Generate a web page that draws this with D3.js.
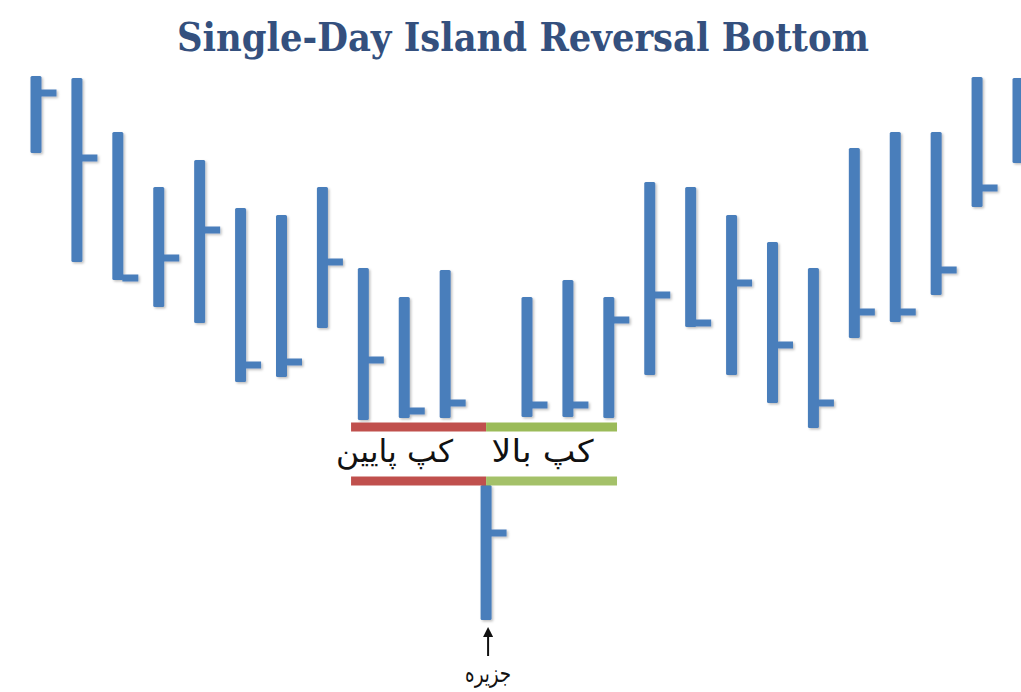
<!DOCTYPE html>
<html>
<head>
<meta charset="utf-8">
<script src="https://cdn.jsdelivr.net/npm/d3@7"></script>
<style>
  body { margin: 0; background: #fff; }
  svg { display: block; }
</style>
</head>
<body>
<svg id="chart"></svg>
<script>
// bar index 11 is the island day
const days  = d3.range(25);
const highs = [120.8, 120.4, 109.6, 98.6, 104, 94.4, 93, 98.6, 82.4, 76.6, 82, 39, 76.6, 80, 76.6, 99.6, 98.6, 93, 87.6, 82.4, 106.4, 109.6, 109.6, 120.6, 120.4];
const lows  = [105.4, 83.6, 80, 74.6, 71.4, 59.6, 60.6, 70.4, 52, 52.4, 52.4, 12, 52.6, 52.6, 52.4, 61, 70.6, 61, 55.4, 50.4, 68.4, 71.6, 77, 94.6, 103.4];
const closes = [117.4, 104.4, 80.4, 84.4, 90, 63, 63.6, 83.6, 64, 53.8, 55.4, 29.4, 55, 55, 72, 77, 71.4, 79.4, 67, 55.4, 73.6, 73.6, 82, 98.4, 95];

// gap markers: [level, from index, to index]
const gapLevels = [50.6, 39.8];
const downGap = [7.7, 11];
const upGap   = [11, 14.2];

const titleText = "Single-Day Island Reversal Bottom";
const downLabel = "کپ پایین";
const upLabel   = "کپ بالا";
const islandLabel = "جزیره";

const width = 1021, height = 692;
const blue = "#4a7ebb", red = "#c0504d", green = "#9bbb59";

const svg = d3.select("#chart").attr("width", width).attr("height", height);

const x = d3.scaleLinear().domain([0, 24]).range([36, 1018]);
const y = d3.scaleLinear().domain([0, 130]).range([680, 30]);

const defs = svg.append("defs");
const shadow = defs.append("filter").attr("id", "shadow")
    .attr("x", "-50%").attr("y", "-10%").attr("width", "200%").attr("height", "120%");
shadow.append("feDropShadow")
    .attr("dx", 1.5).attr("dy", 1.5).attr("stdDeviation", 1)
    .attr("flood-color", "#000").attr("flood-opacity", 0.25);

svg.append("text")
    .attr("x", 523)
    .attr("y", 51)
    .attr("text-anchor", "middle")
    .attr("font-family", "'DejaVu Serif Condensed', 'DejaVu Serif', serif")
    .attr("font-weight", "bold")
    .attr("font-size", 39)
    .attr("fill", "#34507e")
    .attr("textLength", 692)
    .attr("lengthAdjust", "spacingAndGlyphs")
    .text(titleText);

const bars = svg.append("g").attr("filter", "url(#shadow)");
const barW = 11;

bars.selectAll(".hl")
    .data(days)
    .enter().append("rect")
    .attr("class", "hl")
    .attr("x", (d) => x(d) - barW / 2)
    .attr("y", (d) => y(highs[d]))
    .attr("width", barW)
    .attr("height", (d) => y(lows[d]) - y(highs[d]))
    .attr("rx", 1.5)
    .attr("fill", blue);

bars.selectAll(".close")
    .data(days)
    .enter().append("rect")
    .attr("class", "close")
    .attr("x", (d) => x(d) + barW / 2 - 1)
    .attr("y", (d) => y(closes[d]) - 3.5)
    .attr("width", 16)
    .attr("height", 7)
    .attr("fill", blue);

// gap lines
const gaps = svg.append("g");
gapLevels.forEach((lvl, i) => {
    gaps.append("line")
        .attr("x1", x(downGap[0])).attr("x2", x(downGap[1]))
        .attr("y1", y(lvl)).attr("y2", y(lvl))
        .attr("stroke", red).attr("stroke-width", 9);
    gaps.append("line")
        .attr("x1", x(upGap[0])).attr("x2", x(upGap[1]))
        .attr("y1", y(lvl)).attr("y2", y(lvl))
        .attr("stroke", green).attr("stroke-width", 9)
        .attr("opacity", i === 0 ? 1 : 0.9);
});

const labelY = y((gapLevels[0] + gapLevels[1]) / 2) + 8;
svg.append("text")
    .attr("x", (x(downGap[0]) + x(downGap[1])) / 2 - 24)
    .attr("y", labelY)
    .attr("text-anchor", "middle")
    .attr("font-family", "'DejaVu Sans', sans-serif")
    .attr("font-size", 31)
    .attr("fill", "#111")
    .attr("textLength", 117)
    .attr("lengthAdjust", "spacingAndGlyphs")
    .text(downLabel);
svg.append("text")
    .attr("x", (x(upGap[0]) + x(upGap[1])) / 2 - 9)
    .attr("y", labelY)
    .attr("text-anchor", "middle")
    .attr("font-family", "'DejaVu Sans', sans-serif")
    .attr("font-size", 31)
    .attr("fill", "#111")
    .attr("textLength", 102)
    .attr("lengthAdjust", "spacingAndGlyphs")
    .text(upLabel);

// arrow under the island
const ix = x(11) + 2;
const iy = y(lows[11]);
defs.append("marker").attr("id", "head")
    .attr("viewBox", "0 0 10 10").attr("refX", 5).attr("refY", 5)
    .attr("markerWidth", 5).attr("markerHeight", 5).attr("orient", "auto")
    .append("path").attr("d", "M0,0 L10,5 L0,10 z").attr("fill", "#111");
svg.append("line")
    .attr("x1", ix).attr("x2", ix)
    .attr("y1", iy + 36).attr("y2", iy + 12)
    .attr("stroke", "#111").attr("stroke-width", 2)
    .attr("marker-end", "url(#head)");
svg.append("text")
    .attr("x", ix)
    .attr("y", iy + 62)
    .attr("text-anchor", "middle")
    .attr("font-family", "'DejaVu Sans', sans-serif")
    .attr("font-size", 25)
    .attr("fill", "#111")
    .attr("textLength", 46)
    .attr("lengthAdjust", "spacingAndGlyphs")
    .text(islandLabel);
</script>
</body>
</html>
